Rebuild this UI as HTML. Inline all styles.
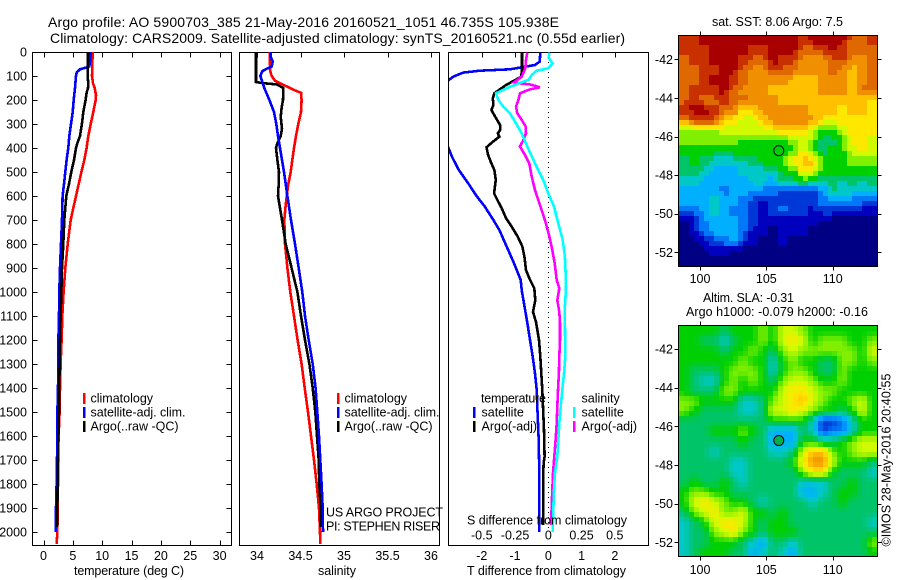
<!DOCTYPE html>
<html>
<head>
<meta charset="utf-8">
<title>Argo profile</title>
<style>
html,body{margin:0;padding:0;background:#fff;}
svg{display:block;font-family:"Liberation Sans",sans-serif;}
text{fill:#000;font-size:12.5px;}
.ttl{font-size:14px;}
</style>
</head>
<body>
<svg id="chart" xmlns="http://www.w3.org/2000/svg" width="900" height="580" viewBox="0 0 900 580">
  <defs>
    <clipPath id="clip-temp"><rect x="33" y="52" width="198" height="493"/></clipPath>
    <clipPath id="clip-sal"><rect x="240" y="52" width="199" height="493"/></clipPath>
    <clipPath id="clip-diff"><rect x="449" y="52" width="199" height="493"/></clipPath>
  </defs>
  <rect width="900" height="580" fill="#fff"/>
  <text class="ttl" x="48" y="27" textLength="511" lengthAdjust="spacing">Argo profile: AO 5900703_385 21-May-2016 20160521_1051 46.735S 105.938E</text>
  <text class="ttl" x="50" y="43" textLength="575" lengthAdjust="spacing">Climatology: CARS2009. Satellite-adjusted climatology: synTS_20160521.nc (0.55d earlier)</text>

  <g id="g-maps"></g>
  <g id="g-axes" shape-rendering="crispEdges"></g>
  <line x1="548.5" y1="52" x2="548.5" y2="530" stroke="#000" stroke-width="1" stroke-dasharray="1 4" shape-rendering="crispEdges"/>
  <g id="g-lines" shape-rendering="crispEdges"></g>
  <g id="g-labels"></g>

  <text x="74" y="575" textLength="110" lengthAdjust="spacing">temperature (deg C)</text>
  <text x="318" y="575" textLength="38" lengthAdjust="spacing">salinity</text>
  <text x="467" y="575" textLength="159" lengthAdjust="spacing">T difference from climatology</text>
  <text x="467" y="524.5" textLength="160" lengthAdjust="spacing">S difference from climatology</text>

  <g shape-rendering="crispEdges">
    <rect x="83" y="393" width="2.5" height="11" fill="#ff0000"/>
    <rect x="83" y="407" width="2.5" height="11" fill="#0000ff"/>
    <rect x="83" y="421" width="2.5" height="11" fill="#000"/>
  </g>
  <text x="90.5" y="402.5">climatology</text>
  <text x="90.5" y="416.5" textLength="95" lengthAdjust="spacing">satellite-adj. clim.</text>
  <text x="90.5" y="430.5" textLength="88" lengthAdjust="spacing">Argo(..raw -QC)</text>

  <g shape-rendering="crispEdges">
    <rect x="337" y="393" width="2.5" height="11" fill="#ff0000"/>
    <rect x="337" y="407" width="2.5" height="11" fill="#0000ff"/>
    <rect x="337" y="421" width="2.5" height="11" fill="#000"/>
  </g>
  <text x="344.5" y="402.5">climatology</text>
  <text x="344.5" y="416.5" textLength="95" lengthAdjust="spacing">satellite-adj. clim.</text>
  <text x="344.5" y="430.5" textLength="88" lengthAdjust="spacing">Argo(..raw -QC)</text>
  <text x="326" y="516.5" textLength="117" lengthAdjust="spacing">US ARGO PROJECT</text>
  <text x="326" y="530.5" textLength="114" lengthAdjust="spacing">PI: STEPHEN RISER</text>

  <g shape-rendering="crispEdges">
    <rect x="473" y="407" width="2.5" height="11" fill="#0000ff"/>
    <rect x="473" y="421" width="2.5" height="11" fill="#000"/>
    <rect x="573" y="407" width="2.5" height="11" fill="#00ffff"/>
    <rect x="573" y="421" width="2.5" height="11" fill="#ff00ff"/>
  </g>
  <text x="481" y="402.5" textLength="65" lengthAdjust="spacing">temperature</text>
  <text x="481.5" y="416.5">satellite</text>
  <text x="481.5" y="430.5">Argo(-adj)</text>
  <text x="581.5" y="402.5">salinity</text>
  <text x="581.5" y="416.5">satellite</text>
  <text x="581.5" y="430.5">Argo(-adj)</text>

  <text x="712" y="26" textLength="131" lengthAdjust="spacing">sat. SST: 8.06 Argo: 7.5</text>
  <text x="703" y="302" textLength="91" lengthAdjust="spacing">Altim. SLA: -0.31</text>
  <text x="686" y="316" textLength="182" lengthAdjust="spacing">Argo h1000: -0.079 h2000: -0.16</text>
  <text transform="translate(890.5,546.5) rotate(-90)" x="0" y="0" textLength="173" lengthAdjust="spacing">©IMOS 28-May-2016 20:40:55</text>
</svg>

<script>
// ---- temperature profile (deg C) ----
const tempClimDepth = [0,50,100,130,150,180,200,220,250,300,350,400,450,500,550,600,650,700,800,900,1000,1100,1200,1300,1400,1500,1600,1700,1800,1900,2000,2050];
const tempClim = [8.38,8.32,8.26,8.44,8.72,8.95,8.9,8.72,8.49,8.04,7.64,7.35,6.95,6.45,5.99,5.54,5.08,4.63,4.12,3.72,3.43,3.21,3.09,2.92,2.81,2.75,2.58,2.47,2.47,2.41,2.36,2.24];
const tempSatDepth = [0,30,60,65,72,85,100,150,200,250,300,350,400,450,500,550,600,700,800,900,1000,1100,1200,1300,1400,1500,1600,1700,1800,1900,2000];
const tempSat = [8.04,7.98,7.81,7.24,6.22,5.65,5.54,5.36,5.14,4.97,4.68,4.4,4.23,3.94,3.72,3.49,3.26,3.15,2.98,2.81,2.7,2.64,2.53,2.53,2.47,2.36,2.36,2.3,2.24,2.13,2.07];
const tempArgoDepth = [0,100,130,150,170,200,250,300,350,380,400,450,500,550,600,650,700,800,900,1000,1100,1200,1300,1400,1500,1600,1700,1800,1900,1980];
const tempArgo = [7.58,7.52,7.64,7.58,7.35,7.18,6.78,6.55,6.22,5.76,5.54,5.19,4.74,4.34,3.89,3.72,3.55,3.38,3.15,3.04,2.92,2.81,2.75,2.7,2.64,2.53,2.47,2.41,2.36,2.36];

// ---- salinity profile ----
const salClimDepth = [0,50,80,100,120,140,160,170,200,250,300,350,400,450,500,550,600,650,700,800,900,1000,1100,1200,1300,1400,1500,1600,1700,1800,1900,2000,2050];
const salClim = [34.146,34.149,34.153,34.169,34.207,34.322,34.437,34.506,34.513,34.506,34.475,34.448,34.425,34.406,34.387,34.36,34.341,34.326,34.314,34.322,34.349,34.383,34.425,34.467,34.513,34.548,34.586,34.621,34.655,34.686,34.713,34.724,34.728];
const salSatDepth = [0,20,40,60,70,80,100,120,150,200,250,300,350,400,450,500,550,600,700,800,900,1000,1100,1200,1300,1400,1500,1600,1700,1800,1900,2000];
const salSat = [34.161,34.157,34.18,34.169,34.111,34.061,34.038,34.057,34.084,34.142,34.195,34.222,34.241,34.264,34.287,34.31,34.33,34.349,34.391,34.437,34.479,34.521,34.552,34.594,34.64,34.674,34.693,34.713,34.728,34.743,34.755,34.759];
const salArgoDepth = [0,125,130,135,150,200,230,270,320,350,380,400,450,500,550,600,650,700,800,900,1000,1100,1200,1300,1400,1500,1600,1700,1800,1900,1980];
const salArgo = [33.989,33.989,34.073,34.226,34.303,34.299,34.284,34.272,34.287,34.272,34.234,34.218,34.234,34.253,34.249,34.241,34.264,34.287,34.33,34.398,34.464,34.506,34.552,34.602,34.64,34.67,34.69,34.709,34.716,34.732,34.736];

// ---- temperature differences from climatology (deg C) ----
const dTempSatDepth = [3,40,54,72,78,86,103,119,150,200,250,300,350,397,436,492,547,603,644,700,742,811,881,950,992,1130,1200,1269,1339,1408,1478,1617,1756,1894,2000];
const dTempSat = [-0.24,-0.26,-0.4,-1.15,-2.06,-2.56,-2.86,-3.01,-3.36,-3.76,-3.55,-3.4,-3.2,-3.01,-2.9,-2.69,-2.41,-2.14,-1.91,-1.65,-1.47,-1.25,-1.03,-0.83,-0.8,-0.63,-0.55,-0.47,-0.4,-0.35,-0.33,-0.29,-0.27,-0.27,-0.27];
const dTempArgoDepth = [3,75,96,103,117,140,172,193,221,242,269,304,325,339,353,374,397,429,464,492,533,589,617,651,693,728,769,811,853,908,943,985,1034,1083,1125,1200,1269,1339,1408,1478,1575,1686,1714,1756,1825,1970];
const dTempArgo = [-0.79,-0.79,-0.81,-0.8,-1.0,-1.3,-1.62,-1.67,-1.65,-1.71,-1.6,-1.45,-1.45,-1.52,-1.47,-1.67,-1.86,-1.81,-1.71,-1.62,-1.58,-1.63,-1.53,-1.4,-1.27,-1.1,-0.92,-0.78,-0.72,-0.67,-0.57,-0.42,-0.39,-0.46,-0.37,-0.28,-0.24,-0.21,-0.18,-0.16,-0.13,-0.11,-0.14,-0.15,-0.15,-0.15];

// ---- salinity differences from climatology ----
const dSalSatDepth = [3,26,47,68,78,96,117,131,151,172,200,228,256,297,339,394,464,533,589,644,714,783,853,922,985,1061,1130,1269,1339,1408,1478,1547,1617,1686,1756,1825,1894,2000];
const dSalSat = [0.008,0.003,0.033,0,-0.088,-0.125,-0.15,-0.225,-0.313,-0.393,-0.375,-0.338,-0.288,-0.243,-0.2,-0.158,-0.1,-0.038,0,0.043,0.075,0.108,0.125,0.13,0.133,0.125,0.125,0.128,0.118,0.105,0.093,0.083,0.075,0.068,0.05,0.043,0.038,0.033];
const dSalArgoDepth = [3,33,68,103,126,131,135,147,156,172,200,228,256,283,311,339,367,394,429,464,519,575,617,658,714,769,825,881,950,985,1034,1083,1130,1200,1269,1339,1408,1478,1547,1617,1686,1756,1825,1894,1970];
const dSalArgo = [-0.158,-0.168,-0.173,-0.2,-0.258,-0.213,-0.138,-0.063,-0.138,-0.213,-0.225,-0.243,-0.233,-0.2,-0.17,-0.168,-0.188,-0.213,-0.175,-0.143,-0.125,-0.1,-0.075,-0.05,-0.018,0.008,0.03,0.048,0.063,0.083,0.068,0.083,0.088,0.088,0.083,0.08,0.073,0.068,0.063,0.055,0.045,0.035,0.03,0.025,0.023];

// ---- tick labels ----
const depthTicks = [0,100,200,300,400,500,600,700,800,900,1000,1100,1200,1300,1400,1500,1600,1700,1800,1900,2000];
const tempTicks = [0,5,10,15,20,25,30];
const salTicks = [34,34.5,35,35.5,36];
const dTempTicks = [-2,-1,0,1,2];
const dSalTicks = [-0.5,-0.25,0,0.25,0.5];
const lonTicks = [100,105,110];
const latTicks = [-42,-44,-46,-48,-50,-52];

// ---- float position ----
const floatLon = [105.938];
const floatLat = [-46.735];

// ---- SST map, colour level per cell, north to south ----
const sstLevels = [
[14,14,15,15,15,15,15,15,15,15,15,15,14,15,15,15,15,13,13,14],
[14,14,14,15,15,15,15,14,14,15,15,15,13,13,14,15,14,13,13,13],
[13,14,14,15,15,15,14,13,13,15,14,14,12,12,12,13,14,12,12,13],
[13,13,14,14,15,15,13,12,12,14,13,13,12,12,12,13,12,11,12,13],
[13,13,14,15,15,14,13,12,12,12,12,11,11,11,12,12,12,11,12,13],
[13,14,14,14,15,13,12,12,12,11,11,11,11,11,12,12,12,11,13,13],
[13,14,13,13,14,13,13,12,12,12,11,11,11,11,11,11,11,11,11,10],
[14,15,15,14,13,13,10,11,12,12,12,12,12,11,11,11,10,11,11,10],
[12,14,14,14,11,10,9,9,11,12,12,12,12,12,10,10,10,10,10,10],
[8,8,8,8,9,9,9,9,9,10,11,11,11,9,7,7,9,10,10,10],
[8,8,8,8,8,8,7,7,7,7,7,8,9,8,6,6,7,10,10,9],
[7,7,7,7,6,7,7,7,7,7,7,7,10,7,6,7,7,9,10,9],
[6,7,6,5,5,5,5,6,7,7,7,10,11,11,7,7,7,8,8,8],
[6,6,5,4,4,4,5,5,5,5,7,7,10,10,7,7,7,7,7,7],
[5,5,4,4,4,4,4,5,5,4,6,6,7,6,6,6,5,6,5,6],
[4,4,4,4,3,4,4,3,3,3,2,2,2,2,3,6,5,5,4,5],
[4,4,4,5,4,4,3,2,1,2,2,2,2,2,3,4,3,3,3,2],
[3,3,4,5,4,3,3,2,1,2,3,2,2,1,2,2,1,1,1,1],
[0,1,3,4,4,4,3,2,1,1,1,1,1,1,0,0,0,0,0,0],
[0,1,3,4,4,4,3,1,1,0,1,1,1,0,0,0,0,0,0,0],
[0,0,1,2,3,4,2,1,0,0,1,0,0,0,0,0,0,0,0,0],
[0,0,0,1,1,0,0,0,0,0,0,0,0,0,0,0,0,0,0,0],
[0,0,0,0,0,0,0,0,0,0,0,0,0,0,0,0,0,0,0,0]
];

// ---- sea level anomaly map, colour level per cell, north to south ----
const slaLevels = [
[7,7,7,7,6,7,7,7,8,7,9,9,8,7,7,7,7,7,7,7],
[7,7,6,6,5,6,7,7,8,7,9,10,9,7,8,8,8,7,7,8],
[7,7,7,7,6,7,7,8,7,6,8,9,8,8,8,8,8,8,7,9],
[7,7,7,7,7,7,8,7,7,5,7,8,7,7,6,6,8,8,7,8],
[7,6,6,6,7,8,8,8,7,5,7,8,8,7,6,6,8,7,7,7],
[7,6,5,5,7,8,7,8,7,6,8,9,9,8,7,7,8,7,7,7],
[7,6,6,6,8,8,7,7,7,7,9,10,10,9,8,8,7,7,7,7],
[8,8,7,7,7,7,5,5,6,8,9,10,11,9,8,7,7,8,9,7],
[8,7,6,6,6,6,5,5,6,9,9,10,9,8,7,7,6,7,9,7],
[6,6,6,6,6,6,6,6,6,7,7,7,7,5,2,2,3,5,7,7],
[6,6,6,7,7,7,8,7,6,4,4,4,6,5,2,3,3,5,7,7],
[6,6,6,6,6,6,7,6,6,4,4,4,7,7,6,6,7,8,9,9],
[6,6,6,5,6,6,6,6,6,5,5,6,9,11,11,8,7,8,9,9],
[6,6,6,6,6,5,5,6,6,6,6,7,10,12,12,9,7,7,7,6],
[6,6,6,6,6,5,5,6,6,6,6,6,8,10,10,7,6,6,6,5],
[6,7,6,6,7,6,5,6,6,6,6,6,5,5,5,6,6,7,6,6],
[7,8,8,7,7,6,6,6,6,6,6,6,4,4,5,6,7,7,6,6],
[7,9,10,9,8,7,7,6,5,6,6,6,6,5,6,6,7,6,6,6],
[6,8,9,10,8,8,9,7,7,6,7,6,6,6,6,6,6,6,6,6],
[5,6,7,9,10,10,9,7,6,7,7,6,6,6,6,6,6,6,6,5],
[5,6,6,8,9,10,8,7,6,7,7,7,6,6,6,6,6,6,6,6],
[5,6,6,7,7,7,6,5,4,6,6,5,6,6,6,6,6,6,6,8],
[5,6,7,7,7,6,6,4,5,6,5,4,6,6,6,6,6,6,6,7]
];

const svgNS = 'http://www.w3.org/2000/svg';
const axesG = document.getElementById('g-axes');
const linesG = document.getElementById('g-lines');
const labelsG = document.getElementById('g-labels');
const mapsG = document.getElementById('g-maps');

// axis functions
const yDepth = d => 52 + 0.24 * d;
const xTemp = t => 43.5 + 5.87 * t;
const xSal = s => 257 + 87.0 * (s - 34);
const xDT = t => 548.3 + 33.25 * t;
const xDS = s => 548.3 + 133 * s;
const xLon = lon => 700 + 13.27 * (lon - 100);
const yLatTop = lat => 59.3 + 19.3 * (-42 - lat);
const yLatBot = lat => 349 + 19.33 * (-42 - lat);

const palette = [[0,0,132],[0,0,190],[0,56,216],[0,120,248],[0,176,255],[0,200,200],[0,196,104],[0,208,0],[128,240,0],[208,250,0],[255,232,0],[255,192,0],[240,144,0],[224,104,0],[200,48,0],[168,0,0]];
function levelColor(v) {
  const c = Math.max(0, Math.min(15, v));
  const i = Math.min(14, Math.floor(c));
  const f = c - i;
  const a = palette[i], b = palette[i + 1];
  return 'rgb(' + [0,1,2].map(k => Math.round(a[k] + (b[k] - a[k]) * f)).join(',') + ')';
}

function tickLine(x1, y1, x2, y2) {
  const el = document.createElementNS(svgNS, 'line');
  el.setAttribute('x1', x1);
  el.setAttribute('y1', y1);
  el.setAttribute('x2', x2);
  el.setAttribute('y2', y2);
  el.setAttribute('stroke', '#000');
  
  
  axesG.appendChild(el);
}
function frame(x, y, w, h) {
  const el = document.createElementNS(svgNS, 'rect');
  el.setAttribute('x', x);
  el.setAttribute('y', y);
  el.setAttribute('width', w);
  el.setAttribute('height', h);
  el.setAttribute('fill', 'none');
  el.setAttribute('stroke', '#000');
  
  
  axesG.appendChild(el);
}
function label(txt, x, y, anchor) {
  const el = document.createElementNS(svgNS, 'text');
  el.setAttribute('x', x);
  el.setAttribute('y', y);
  el.setAttribute('text-anchor', anchor);
  
  
  el.textContent = txt;
  labelsG.appendChild(el);
}
function profile(depths, values, xf, color, width, clip, seriesName) {
  const el = document.createElementNS(svgNS, 'polyline');
  el.setAttribute('points', depths.map((d, i) => xf(values[i]).toFixed(1) + ',' + yDepth(d).toFixed(1)).join(' '));
  el.setAttribute('fill', 'none');
  el.setAttribute('stroke', color);
  el.setAttribute('stroke-width', width);
  el.setAttribute('clip-path', 'url(#' + clip + ')');
  
  
  linesG.appendChild(el);
}
function heatmap(grid, x0, y0, w, h, cellName, stepped) {
  const rows = grid.length, cols = grid[0].length, sub = 2;
  const nR = rows * sub, nC = cols * sub;
  for (let r = 0; r < nR; r++) {
    for (let c = 0; c < nC; c++) {
      const gy = Math.max(0, Math.min(rows - 1.001, (r + 0.5) / sub - 0.5));
      const gx = Math.max(0, Math.min(cols - 1.001, (c + 0.5) / sub - 0.5));
      const i = Math.floor(gy), j = Math.floor(gx), fy = gy - i, fx = gx - j;
      const raw = grid[i][j] * (1 - fx) * (1 - fy) + grid[i][j + 1] * fx * (1 - fy) + grid[i + 1][j] * (1 - fx) * fy + grid[i + 1][j + 1] * fx * fy;
      const v = stepped ? Math.round(raw) : raw;
      const xa = Math.round(x0 + w * c / nC), xb = Math.round(x0 + w * (c + 1) / nC);
      const ya = Math.round(y0 + h * r / nR), yb = Math.round(y0 + h * (r + 1) / nR);
      const el = document.createElementNS(svgNS, 'rect');
      el.setAttribute('x', xa);
      el.setAttribute('y', ya);
      el.setAttribute('width', xb - xa);
      el.setAttribute('height', yb - ya);
      el.setAttribute('fill', levelColor(v));
      el.setAttribute('shape-rendering', 'crispEdges');
      
      
      mapsG.appendChild(el);
    }
  }
}
function marker(cx, cy, fill) {
  const el = document.createElementNS(svgNS, 'circle');
  el.setAttribute('cx', cx);
  el.setAttribute('cy', cy);
  el.setAttribute('r', 5);
  el.setAttribute('fill', fill);
  el.setAttribute('stroke', '#000');
  
  
  mapsG.appendChild(el);
}

// maps
heatmap(sstLevels, 679, 35, 198, 231, 'sst-cell', true);
heatmap(slaLevels, 679, 326, 198, 231, 'sla-cell', false);
marker(xLon(floatLon[0]), yLatTop(floatLat[0]), 'none');
marker(xLon(floatLon[0]), yLatBot(floatLat[0]), '#00b050');

// frames
frame(32.5, 52.5, 199, 493);
frame(239.5, 52.5, 200, 493);
frame(448.5, 52.5, 200, 493);
frame(678.5, 35.5, 199, 231);
frame(678.5, 325.5, 199, 231);

// depth axis
depthTicks.forEach(d => {
  const y = Math.round(yDepth(d)) + 0.5;
  tickLine(32.5, y, 37.5, y);
  tickLine(226.5, y, 231.5, y);
  label(String(d), 27, yDepth(d) + 4.5, 'end');
});

// temperature axis
tempTicks.forEach(t => {
  const x = Math.round(xTemp(t)) + 0.5;
  tickLine(x, 52.5, x, 57.5);
  tickLine(x, 540.5, x, 545.5);
  label(String(t), xTemp(t), 560, 'middle');
});

// salinity axis
salTicks.forEach(s => {
  const x = Math.round(xSal(s)) + 0.5;
  tickLine(x, 52.5, x, 57.5);
  label(String(s), xSal(s), 560, 'middle');
});

// difference axes
dTempTicks.forEach(t => {
  const x = Math.round(xDT(t)) + 0.5;
  tickLine(x, 52.5, x, 57.5);
  label(String(t), xDT(t), 560, 'middle');
});
dSalTicks.forEach(s => {
  label(String(s), xDS(s), 539.5, 'middle');
});

// map axes
lonTicks.forEach(lon => {
  const x = Math.round(xLon(lon)) + 0.5;
  tickLine(x, 31.5, x, 35.5);
  tickLine(x, 266.5, x, 270.5);
  tickLine(x, 321.5, x, 325.5);
  tickLine(x, 556.5, x, 560.5);
  label(String(lon), xLon(lon), 283, 'middle');
  label(String(lon), xLon(lon), 574, 'middle');
});
latTicks.forEach(lat => {
  const yt = Math.round(yLatTop(lat)) + 0.5;
  const yb = Math.round(yLatBot(lat)) + 0.5;
  tickLine(674.5, yt, 678.5, yt);
  tickLine(877.5, yt, 881.5, yt);
  tickLine(674.5, yb, 678.5, yb);
  tickLine(877.5, yb, 881.5, yb);
  label(String(lat), 673, yLatTop(lat) + 4.5, 'end');
  label(String(lat), 673, yLatBot(lat) + 4.5, 'end');
});

// profile lines
profile(tempClimDepth, tempClim, xTemp, '#ff0000', 2.6, 'clip-temp', 'temperature-climatology-line');
profile(tempSatDepth, tempSat, xTemp, '#0000ff', 2.6, 'clip-temp', 'temperature-satellite-line');
profile(tempArgoDepth, tempArgo, xTemp, '#000000', 2.6, 'clip-temp', 'temperature-argo-line');
profile(salClimDepth, salClim, xSal, '#ff0000', 2.6, 'clip-sal', 'salinity-climatology-line');
profile(salArgoDepth, salArgo, xSal, '#000000', 2.6, 'clip-sal', 'salinity-argo-line');
profile(salSatDepth, salSat, xSal, '#0000ff', 2.6, 'clip-sal', 'salinity-satellite-line');
profile(dTempSatDepth, dTempSat, xDT, '#0000ff', 2.6, 'clip-diff', 'temperature-difference-satellite-line');
profile(dTempArgoDepth, dTempArgo, xDT, '#000000', 2.6, 'clip-diff', 'temperature-difference-argo-line');
profile(dSalArgoDepth, dSalArgo, xDS, '#ff00ff', 2.6, 'clip-diff', 'salinity-difference-argo-line');
profile(dSalSatDepth, dSalSat, xDS, '#00ffff', 2.6, 'clip-diff', 'salinity-difference-satellite-line');
</script>
</body>
</html>
